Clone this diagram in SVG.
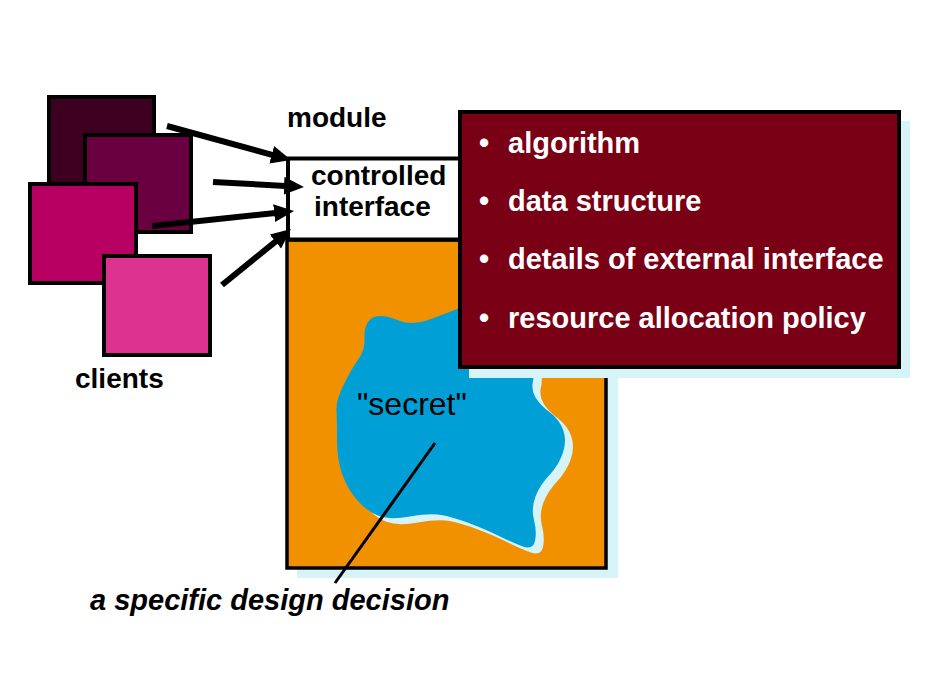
<svg xmlns="http://www.w3.org/2000/svg" width="943" height="684" viewBox="0 0 943 684">
<defs>
<style>
.t{font-family:"Liberation Sans",Arial,sans-serif;font-weight:bold;font-size:28px;fill:#000}
.w{font-family:"Liberation Sans",Arial,sans-serif;font-weight:bold;font-size:29px;fill:#fff}
.sq{stroke:#000;stroke-width:4}
.shadow{fill:#d6f3f8}
.arrow{stroke:#000;stroke-width:6;fill:none;marker-end:url(#ah)}
</style>
<marker id="ah" markerUnits="userSpaceOnUse" markerWidth="22" markerHeight="20" refX="6" refY="9" orient="auto">
<path d="M0,0 L20,9 L0,18 z" fill="#000"/>
</marker>
</defs>
<rect width="943" height="684" fill="#fff"/>

<g id="clients">
<rect class="sq" x="49" y="97" width="105" height="100" fill="#3d0021"/>
<rect class="sq" x="85" y="135" width="106" height="97" fill="#6b0040"/>
<rect class="sq" x="30" y="184" width="106" height="99" fill="#b70062"/>
<rect class="sq" x="104" y="256" width="106" height="99" fill="#dc338e"/>
<text class="t" x="75" y="388">clients</text>
</g>

<g id="module">
<rect class="shadow" x="297" y="248" width="321" height="330"/>
<rect x="287" y="240" width="319" height="328" fill="#f29100" stroke="#000" stroke-width="3.5"/>
<g id="secret">
<path class="shadow" transform="translate(8,6)" d="M336.5,410 Q336,400 344,384 Q352,368 358.5,359 Q365,350 364.5,339 Q364,328 368,322 Q372,316 380,316 Q388,316 400,321 Q412,326 431,319 Q450,312 465,306 Q480,300 505,315 Q530,330 532.5,351 Q535,372 533,381 Q531,390 535.5,397.5 Q540,405 550,412.5 Q560,420 563.5,431 Q567,442 562.5,454 Q558,466 549,475.5 Q540,485 535.5,496.5 Q531,508 534,520 Q537,532 535,541 Q533,550 523,546.5 Q513,543 500,536.5 Q487,530 470,523.5 Q453,517 441.5,515 Q430,513 410,516.5 Q390,520 379,516 Q368,512 358,501 Q348,490 342.5,475 Q337,460 337,440 Q337,420 336.5,410 Z"/>
<path fill="#009fd6" d="M336.5,410 Q336,400 344,384 Q352,368 358.5,359 Q365,350 364.5,339 Q364,328 368,322 Q372,316 380,316 Q388,316 400,321 Q412,326 431,319 Q450,312 465,306 Q480,300 505,315 Q530,330 532.5,351 Q535,372 533,381 Q531,390 535.5,397.5 Q540,405 550,412.5 Q560,420 563.5,431 Q567,442 562.5,454 Q558,466 549,475.5 Q540,485 535.5,496.5 Q531,508 534,520 Q537,532 535,541 Q533,550 523,546.5 Q513,543 500,536.5 Q487,530 470,523.5 Q453,517 441.5,515 Q430,513 410,516.5 Q390,520 379,516 Q368,512 358,501 Q348,490 342.5,475 Q337,460 337,440 Q337,420 336.5,410 Z"/>
<text x="357" y="415" font-family="Liberation Sans, Arial, sans-serif" font-size="32" fill="#000">"secret"</text>
</g>
<rect x="288" y="158.5" width="200" height="81" fill="#fff" stroke="#000" stroke-width="4"/>
<text class="t" x="311" y="185">controlled</text>
<text class="t" x="314" y="216">interface</text>
<text class="t" x="287" y="127">module</text>
</g>

<g id="details">
<rect class="shadow" x="469" y="121" width="441" height="257"/>
<rect x="460" y="112" width="439" height="255" fill="#7a0016" stroke="#000" stroke-width="4"/>
<text class="w" x="479" y="153">•</text>
<text class="w" x="508" y="153">algorithm</text>
<text class="w" x="479" y="211">•</text>
<text class="w" x="508" y="211">data structure</text>
<text class="w" x="479" y="269">•</text>
<text class="w" x="508" y="269">details of external interface</text>
<text class="w" x="479" y="328">•</text>
<text class="w" x="508" y="328">resource allocation policy</text>
</g>

<g id="annotation">
<text x="90" y="610" font-family="Liberation Sans, Arial, sans-serif" font-weight="bold" font-style="italic" font-size="29" fill="#000">a specific design decision</text>
</g>

<g id="connectors">
<line class="arrow" x1="167" y1="126" x2="277.5" y2="156.3"/>
<line class="arrow" x1="213" y1="182" x2="290" y2="186.2"/>
<line class="arrow" x1="152" y1="226" x2="280.1" y2="212.5"/>
<line class="arrow" x1="222" y1="285" x2="280.1" y2="237.8"/>
<line x1="435" y1="443" x2="335" y2="583" stroke="#000" stroke-width="3"/>
</g>
</svg>
